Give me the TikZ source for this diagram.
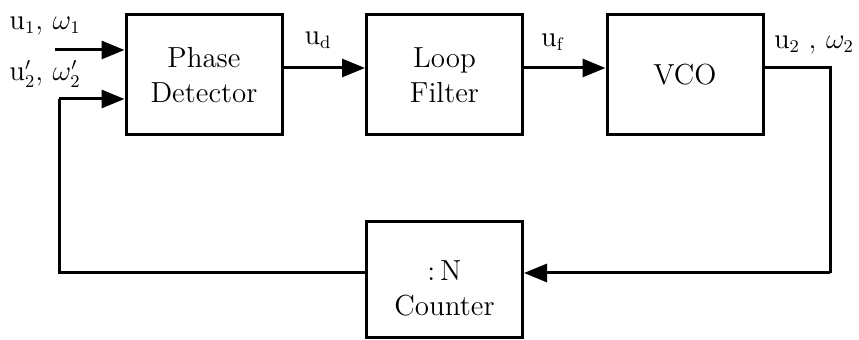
\documentclass[tikz,border=0pt]{standalone}
\usetikzlibrary{arrows.meta}
\begin{document}
\begin{tikzpicture}[x=0.5pt,y=-0.5pt,
  blk/.style={draw,line width=1.5pt,minimum width=78pt,minimum height=60pt,align=center,inner sep=0pt,font=\fontsize{14.5}{17.5}\selectfont},
  wire/.style={line width=1.5pt},
  arr/.style={line width=1.5pt,-{Triangle[length=11.5pt,width=9pt]}},
  lbl/.style={font=\fontsize{13.5}{15}\selectfont,inner sep=0pt}]
\useasboundingbox (0,0) rectangle (859,340);
\node[blk] (pd) at (204,75) {Phase\\Detector};
\node[blk] (lf) at (444.5,75) {Loop\\Filter};
\node[blk] (vco) at (685,75) {VCO};
\node[blk,minimum height=58pt] (cnt) at (444.5,280) {\rule{0pt}{18pt}:\,N\\Counter};
\coordinate (in1) at (55,50);
\coordinate (fbL) at (59,273);
\coordinate (fbR) at (830,273);
\coordinate (outR) at (830,68);
\draw[arr] (in1) -- (in1 -| pd.west);
\draw[arr] (pd.east |- 0,68) -- (lf.west |- 0,68);
\draw[arr] (lf.east |- 0,68) -- (vco.west |- 0,68);
\draw[wire] (vco.east |- 0,68) -- (outR) -- (fbR);
\draw[arr] (fbR) -- (cnt.east |- fbR);
\draw[wire] (cnt.west |- fbL) -- (fbL) -- (59,99);
\draw[arr] (59,99) -- (pd.west |- 0,99);
\node[lbl] (l1) at (45,26) {$\mathrm{u}_1,\,\omega_1$};
\node[lbl] (l2) at (45,74) {$\mathrm{u}_2',\,\omega_2'$};
\node[lbl] (ld) at (318,40) {$\mathrm{u}_{\mathrm{d}}$};
\node[lbl] (lff) at (553,42) {$\mathrm{u}_{\mathrm{f}}$};
\node[lbl] (l3) at (814,45) {$\mathrm{u}_2\ ,\,\omega_2$};
\end{tikzpicture}
\end{document}
